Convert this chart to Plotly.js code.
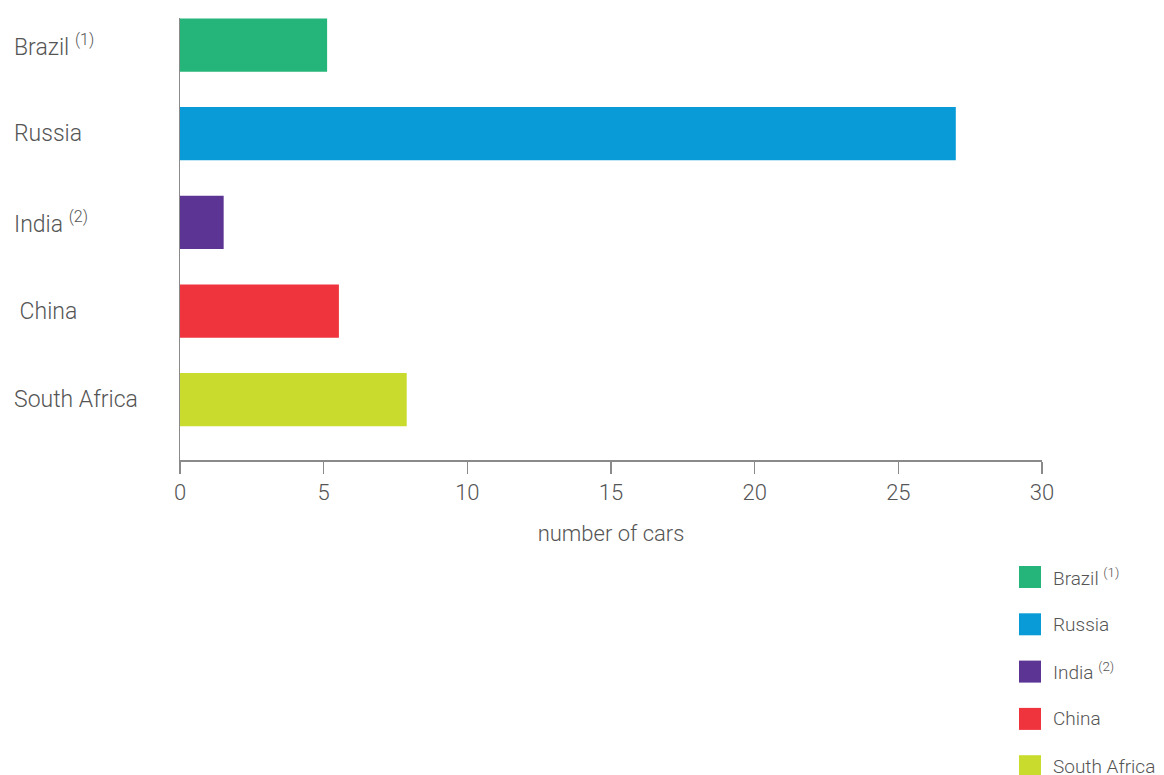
<!DOCTYPE html>
<html>
<head>
<meta charset="utf-8">
<script src="https://cdn.plot.ly/plotly-3.0.1.min.js"></script>
<style>html,body{margin:0;padding:0;background:#fff;}#chart{width:1164px;height:775px;}</style>
</head>
<body>
<div id="chart"></div>
<script>
const categories = ["Brazil <sup>(1)</sup>", "Russia", "India <sup>(2)</sup>", "\u00A0China", "South Africa"];
const legendLabels = ["Brazil <sup>(1)</sup>", "Russia", "India <sup>(2)</sup>", "China", "South Africa"];
const values = [5.12, 27.0, 1.52, 5.53, 7.89];
const colors = ["#25B57A", "#089BD7", "#5C3594", "#EF343E", "#C9DB2D"];
const xTicks = [0, 5, 10, 15, 20, 25, 30];
const xTitle = "number of cars";

const W = 1164, H = 775;
const M = {l: 180, r: 122, t: 18, b: 315};
const pw = W - M.l - M.r, ph = H - M.t - M.b;
const px = x => (x - M.l) / pw;
const py = y => 1 - (y - M.t) / ph;

const FONT = "Roboto, 'Open Sans', sans-serif";
const WT = 300;
const TXT = "#555555";
const AX = "#8a8a8a";

const catIdx = categories.map((c, i) => i);

const traces = [{
  type: "bar",
  orientation: "h",
  y: catIdx,
  x: values,
  marker: {color: colors},
  width: 0.6,
  showlegend: false,
  hoverinfo: "x"
}];

const annotations = [];
categories.forEach((c, i) => {
  annotations.push({
    xref: "paper", yref: "y", x: px(12), y: i,
    xanchor: "left", yanchor: "middle",
    text: c, showarrow: false,
    font: {family: FONT, size: 23, color: TXT, weight: WT}
  });
});
const shapes = [];
legendLabels.forEach((c, i) => {
  const cy = 577 + i * 47.3;
  annotations.push({
    xref: "paper", yref: "paper", x: px(1051), y: py(cy),
    xanchor: "left", yanchor: "middle",
    text: c, showarrow: false,
    font: {family: FONT, size: 19, color: TXT, weight: WT}
  });
  shapes.push({
    type: "rect", xref: "paper", yref: "paper",
    x0: px(1019), x1: px(1041), y0: py(cy - 11), y1: py(cy + 11),
    fillcolor: colors[i], line: {width: 0}
  });
});

const layout = {
  width: W, height: H,
  margin: M,
  paper_bgcolor: "#fff", plot_bgcolor: "#fff",
  font: {family: FONT, color: TXT, weight: WT},
  showlegend: false,
  xaxis: {
    range: [0, 30],
    tickvals: xTicks,
    ticktext: xTicks.map(String),
    showgrid: false, zeroline: false,
    showline: true, linecolor: AX, linewidth: 1.5,
    ticks: "outside", ticklen: 12, tickcolor: AX, tickwidth: 1.5,
    tickfont: {family: FONT, size: 22, color: TXT, weight: WT},
    title: {text: xTitle, font: {family: FONT, size: 22, color: TXT, weight: WT}, standoff: 21},
    fixedrange: true
  },
  yaxis: {
    range: [4.68, -0.305],
    showticklabels: false,
    showgrid: false, zeroline: false,
    showline: true, linecolor: AX, linewidth: 1.5,
    ticks: "",
    fixedrange: true
  },
  annotations: annotations,
  shapes: shapes,
  bargap: 0.4
};

Plotly.newPlot("chart", traces, layout, {displayModeBar: false, staticPlot: true});
</script>
</body>
</html>
